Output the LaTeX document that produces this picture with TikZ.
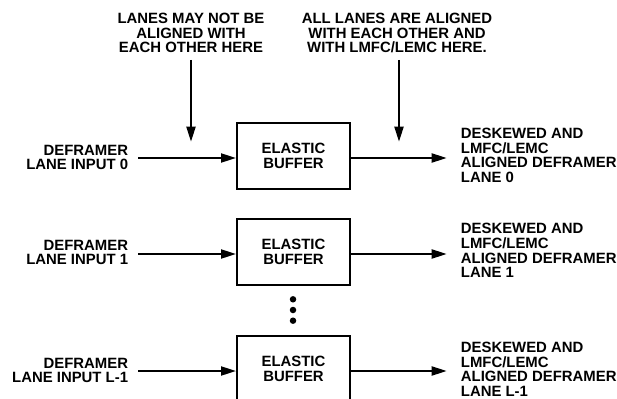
\documentclass[tikz,border=0pt]{standalone}
\usepackage{fontspec}
\setmainfont{Liberation Sans}
\usetikzlibrary{arrows.meta,calc}
\tikzset{
  lbl/.style={inner sep=0pt, font=\fontsize{14.9}{14.2}\selectfont\bfseries},
  olbl/.style={lbl, align=left, anchor=west, font=\fontsize{14.9}{14.6}\selectfont\bfseries},
  ebox/.style={draw, line width=2pt, minimum width=113pt, minimum height=66pt, inner sep=0pt, align=center, font=\fontsize{14.9}{14.6}\selectfont\bfseries},
  arr/.style={line width=2pt, -{Triangle[length=15pt,width=9pt]}},
  dot/.style={circle, fill=black, inner sep=0pt, minimum size=6.5pt}
}
\begin{document}
\begin{tikzpicture}[x=1pt,y=-1pt]
\clip (0,0) rectangle (617,398);
% top labels
\node[lbl, align=center] (topL) at (191,33) {LANES MAY NOT BE\\ALIGNED WITH\\EACH OTHER HERE};
\node[lbl, align=center] (topR) at (397,33) {ALL LANES ARE ALIGNED\\WITH EACH OTHER AND\\ WITH LMFC/LEMC HERE.};
\coordinate (t0) at (191,141.7);
\coordinate (t1) at (399,141.7);
\draw[arr] (t0 |- 0,60) -- (t0);
\draw[arr] (t1 |- 0,60) -- (t1);
% boxes
\node[ebox] (b0) at (293.5,156) {ELASTIC\\BUFFER};
\node[ebox] (b1) at (293.5,252) {ELASTIC\\BUFFER};
\node[ebox] (b2) at (293.5,369) {ELASTIC\\BUFFER};
% inputs
\node[lbl, align=right, anchor=east] (in0) at (128.3,157.2) {DEFRAMER\\LANE INPUT 0};
\node[lbl, align=right, anchor=east] (in1) at (128.3,252.3) {DEFRAMER\\LANE INPUT 1};
\node[lbl, align=right, anchor=east] (in2) at (128.3,370.5) {DEFRAMER\\LANE INPUT L-1};
% outputs
\node[olbl] (out0) at (460.7,155.4) {DESKEWED AND\\LMFC/LEMC\\ALIGNED DEFRAMER\\LANE 0};
\node[olbl] (out1) at (460.7,250.5) {DESKEWED AND\\LMFC/LEMC\\ALIGNED DEFRAMER\\LANE 1};
\node[olbl] (out2) at (460.7,369.2) {DESKEWED AND\\LMFC/LEMC\\ALIGNED DEFRAMER\\LANE L-1};
% connectors
\foreach \i in {0,1,2}{
  \draw[arr] ([xshift=9.7pt,yshift=-2pt]in\i.east |- b\i.west) -- ([yshift=-2pt]b\i.west);
  \draw[arr] ([yshift=-2pt]b\i.east) -- ([xshift=-14pt,yshift=-2pt]out\i.west |- b\i.east);
}
% dots
\node[dot] (d1) at (293,299.3) {};
\node[dot] (d2) at (293,310) {};
\node[dot] (d3) at (293,320.7) {};
\end{tikzpicture}
\end{document}
